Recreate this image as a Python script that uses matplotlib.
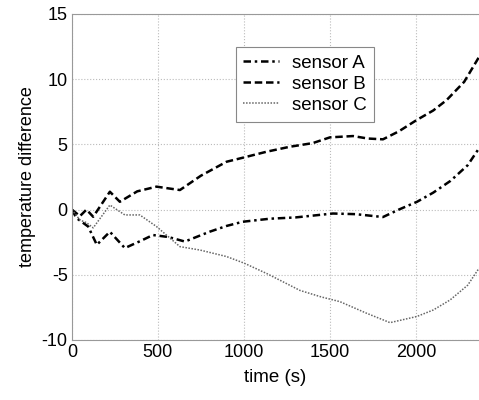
import numpy as np
import matplotlib
matplotlib.use("Agg")
import matplotlib.pyplot as plt

plt.rcParams['font.family'] = ['Liberation Sans', 'DejaVu Sans']
plt.rcParams['axes.unicode_minus'] = False

# sensor readings
t_a = [0, 27, 95, 145, 221, 308, 400, 471, 560, 657, 800, 900, 994, 1150, 1300, 1517, 1650, 1808, 1900, 2006, 2100, 2200, 2300, 2366]
sensor_a = [0, -0.65, -1.3, -2.7, -1.7, -2.95, -2.4, -1.95, -2.1, -2.45, -1.7, -1.25, -0.93, -0.7, -0.6, -0.3, -0.35, -0.57, 0.0, 0.6, 1.3, 2.2, 3.4, 4.7]

t_b = [0, 47, 85, 124, 221, 279, 380, 492, 628, 750, 899, 1000, 1132, 1267, 1400, 1500, 1634, 1720, 1808, 1900, 2004, 2100, 2178, 2280, 2366]
sensor_b = [0, -0.5, 0.0, -0.55, 1.37, 0.6, 1.4, 1.76, 1.5, 2.6, 3.67, 4.0, 4.44, 4.82, 5.1, 5.54, 5.64, 5.45, 5.39, 6.0, 6.87, 7.6, 8.4, 9.8, 11.7]

t_c = [0, 47, 85, 124, 221, 308, 395, 492, 628, 744, 899, 1000, 1132, 1326, 1450, 1558, 1713, 1849, 2004, 2100, 2198, 2300, 2366]
sensor_c = [0, -0.8, -1.0, -1.4, 0.35, -0.41, -0.41, -1.3, -2.84, -3.1, -3.6, -4.1, -4.9, -6.2, -6.7, -7.06, -7.95, -8.67, -8.2, -7.7, -6.93, -5.8, -4.5]

fig = plt.figure(figsize=(4.79, 4.0), dpi=100)
ax = fig.add_axes([0.150, 0.15, 0.85, 0.815])

ax.plot(t_a, sensor_a, color='black', linestyle=(0, (3, 1.5, 1, 1.5)), linewidth=1.8, label='sensor A')
ax.plot(t_b, sensor_b, color='black', linestyle=(0, (3, 1.5)), linewidth=1.8, label='sensor B')
ax.plot(t_c, sensor_c, color='#666666', linestyle=(0, (1, 1)), linewidth=1.1, label='sensor C')

ax.set_xlim(0, 2366)
ax.set_ylim(-10, 15)
ax.set_xticks([0, 500, 1000, 1500, 2000])
ax.set_yticks([-10, -5, 0, 5, 10, 15])
ax.tick_params(direction='in', labelsize=13, length=0, pad=3)
ax.grid(True, linestyle=':', color='#bbbbbb', linewidth=0.8)
for s in ax.spines.values():
    s.set_color('#999999')
ax.spines['right'].set_visible(False)

ax.set_xlabel('time (s)', fontsize=13.5, labelpad=6)
ax.set_ylabel('temperature difference', fontsize=13)

leg = ax.legend(loc='upper left', bbox_to_anchor=(0.403, 0.899), fontsize=13.5,
                fancybox=False, framealpha=1, edgecolor='#888888',
                handlelength=1.9, handletextpad=0.7, borderpad=0.4, labelspacing=0.22,
                borderaxespad=0)
leg.get_frame().set_linewidth(0.8)

fig.savefig('out.png', dpi=100)
